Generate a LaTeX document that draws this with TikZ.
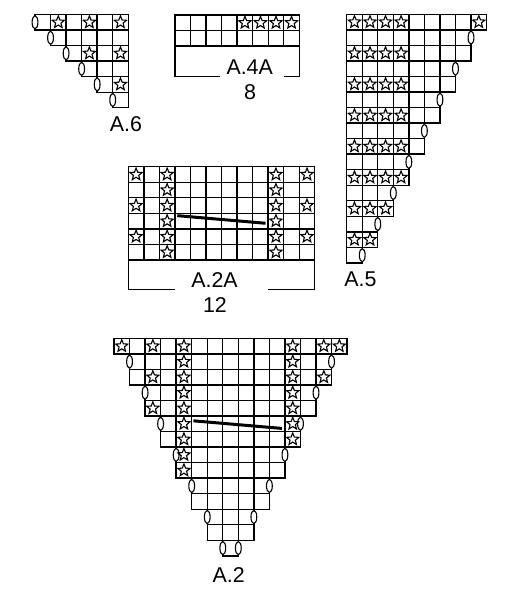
\documentclass[tikz,border=0pt]{standalone}
\usepackage{fontspec}
\setmainfont{Liberation Sans}
\usetikzlibrary{shapes.geometric}

\begin{document}
\begin{tikzpicture}[x=0.5pt,y=-0.5pt,
  box/.style={draw,line width=0.7pt},
  st/.style={star,star points=5,star point ratio=2.3,draw,line width=0.55pt,inner sep=0pt,minimum size=6.4pt},
  yo/.style={ellipse,draw,fill=white,line width=0.55pt,inner sep=0pt,minimum width=2.9pt,minimum height=6.6pt},
  cable/.style={line width=1.5pt},
  lbl/.style={inner sep=0pt,font=\fontsize{10.7}{12}\selectfont}]
\useasboundingbox (0,0) rectangle (507,600);
\pgfmathsetmacro\csz{7.77}

% A.6
\begin{scope}[shift={(35,14.5)},x=\csz pt,y=-\csz pt]
\foreach \row in {0,...,5} {
  \foreach \col in {\row,...,5} {
    \draw[box] (\col,\row) rectangle ++(1,1);
  }
  \node[yo] (y6-\row) at (\row,\row+.5) {};
}
\foreach \col/\row in {1/0,3/0,5/0,3/2,5/2,5/4}
  \node[st] (s6-\col-\row) at (\col+.5,\row+.5) {};
\end{scope}

% A.4A
\begin{scope}[shift={(175,15)},x=\csz pt,y=-\csz pt]
\foreach \row in {0,1} {
  \foreach \col in {0,...,7} {
    \draw[box] (\col,\row) rectangle ++(1,1);
  }
}
\foreach \col in {4,...,7}
  \node[st] (s4-\col) at (\col+.5,.5) {};
\draw[box] (0,2) -- (0,3.96) -- (2.9,3.96);
\draw[box] (8,2) -- (8,3.96) -- (7,3.96);
\end{scope}

% A.5
\begin{scope}[shift={(346.7,14.3)},x=\csz pt,y=-\csz pt]
\foreach \row in {0,...,15} {
  \pgfmathtruncatemacro\ncol{8-floor((\row-1)/2)}
  \pgfmathtruncatemacro\mcol{\ncol-1}
  \foreach \col in {0,...,\mcol} {
    \draw[box] (\col,\row) rectangle ++(1,1);
  }
  \ifodd\row \node[yo] (y5-\row) at (\ncol,\row+.5) {}; \fi
}
\foreach \row in {0,2,...,14} {
  \pgfmathtruncatemacro\kcol{min(3,7-floor((\row-1)/2))}
  \foreach \col in {0,...,\kcol}
    \node[st] (s5-\col-\row) at (\col+.5,\row+.5) {};
}
\node[st] (s5-8-0) at (8.5,.5) {};
\end{scope}

% A.2A
\begin{scope}[shift={(128.3,166.7)},x=\csz pt,y=-\csz pt]
\foreach \row in {0,...,5} {
  \foreach \col in {0,...,11} {
    \draw[box] (\col,\row) rectangle ++(1,1);
  }
}
\foreach \row in {0,...,5} {
  \node[st] (sa-2-\row) at (2.5,\row+.5) {};
  \node[st] (sa-9-\row) at (9.5,\row+.5) {};
}
\foreach \row in {0,2,4} {
  \node[st] (sa-0-\row) at (.5,\row+.5) {};
  \node[st] (sa-11-\row) at (11.5,\row+.5) {};
}
\draw[cable] (3.15,3.15) -- (8.83,3.64);
\draw[box] (0,6) -- (0,7.92) -- (3,7.92);
\draw[box] (12,6) -- (12,7.92) -- (9,7.92);
\end{scope}

% A.2
\begin{scope}[shift={(114,338.3)},x=\csz pt,y=-\csz pt]
\foreach \row in {0,...,13} {
  \pgfmathtruncatemacro\lft{floor((\row+1)/2)}
  \pgfmathtruncatemacro\rgt{14-\lft}
  \foreach \col in {\lft,...,\rgt} {
    \draw[box] (\col,\row) rectangle ++(1,1);
  }
}
% yarn overs on both ends of the odd rows
\foreach \row in {1,3,...,13} {
  \pgfmathtruncatemacro\lft{(\row+1)/2}
  \node[yo] (yl-\row) at (\lft,\row+.5) {};
  \node[yo] (yr-\row) at (15-\lft,\row+.5) {};
}
\foreach \row in {0,...,8}
  \node[st] (s2-4-\row) at (4.5,\row+.5) {};
\foreach \row in {0,...,6}
  \node[st] (s2-11-\row) at (11.5,\row+.5) {};
\foreach \col/\row in {0/0,2/0,13/0,14/0,2/2,13/2,2/4}
  \node[st] (s2-\col-\row) at (\col+.5,\row+.5) {};
\draw[cable] (5.11,5.31) -- (10.81,5.80);
\end{scope}

\node[lbl] (l6) at (126,124.5) {A.6};
\node[lbl] (l4a) at (249.7,67.5) {A.4A};
\node[lbl] (l4n) at (250,92.5) {8};
\node[lbl] (l5) at (360.5,279.7) {A.5};
\node[lbl] (l2a) at (214.5,280.3) {A.2A};
\node[lbl] (l2n) at (215,305.3) {12};
\node[lbl] (l2) at (228.7,575) {A.2};
\end{tikzpicture}
\end{document}
